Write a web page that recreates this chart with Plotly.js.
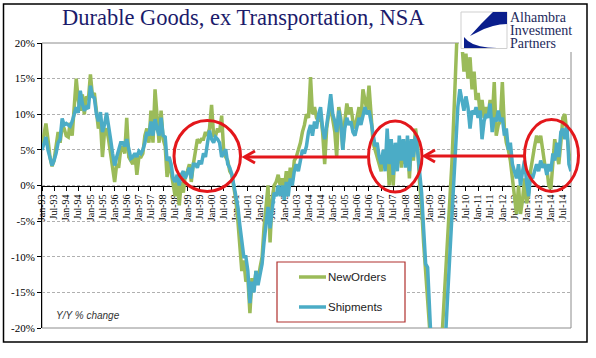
<!DOCTYPE html>
<html>
<head>
<meta charset="utf-8">
<script src="https://cdn.plot.ly/plotly-3.0.1.min.js"></script>
<style>html,body{margin:0;padding:0;background:#fff;}#chart{width:596px;height:358px;}</style>
</head>
<body>
<div id="chart"></div>
<script>
// ---- data (Y/Y % change, monthly Jan-93 .. Nov-14) ----
const startYear = 1993;
const seriesNames = ["NewOrders", "Shipments"];
const newOrders = [
  5.5, 7.0, 8.7, 6.5, 4.0, 2.7, 3.5, 5.5, 7.5, 6.0, 8.4, 8.0,
  7.0, 6.8, 8.8, 7.0, 10.5, 15.0, 12.0, 10.5, 12.8, 10.0, 12.5, 12.0,
  15.6, 12.5, 13.0, 10.5, 8.0, 9.0, 4.0, 7.5, 8.0, 6.5, 4.5, 3.0,
  0.5, 3.0, 2.5, 5.0, 5.5, 4.5, 9.5, 4.0, 3.5, 3.0, 4.5, 1.5,
  4.0, 4.0, 4.5, 7.0, 8.0, 6.0, 10.5, 6.0, 13.5, 9.0, 6.0, 10.5,
  6.5, 5.5, 1.2, 3.5, 2.0, 0.5, -1.5, 1.0, -2.8, 0.5, -1.0, 1.5,
  2.0, 3.0, 0.5, 3.0, 5.0, 6.5, 6.0, 6.5, 6.5, 7.5, 7.0, 8.0,
  11.3, 7.0, 7.0, 8.0, 7.5, 9.8, 5.0, 4.0, 3.5, 2.0, 1.5, 0.0,
  -2.0, -5.0, -8.0, -12.0, -10.5, -13.5, -13.0, -17.9, -13.0, -14.5, -12.0, -13.5,
  -11.5, -10.0, -6.0, -3.0, 0.0, -8.0, -2.0, 0.0, 0.5, 1.5, 0.0, 1.0,
  -0.5, 2.0, -0.5, 2.5, 0.5, 3.5, 4.0, 5.0, 6.0, 7.5, 8.5, 10.0,
  9.5, 15.2, 10.0, 11.0, 9.5, 9.0, 10.0, 7.5, 3.0, 8.0, 10.0, 11.0,
  9.0, 7.5, 4.0, 11.0, 9.5, 5.0, 9.0, 11.5, 10.0, 11.0, 9.0, 8.0,
  9.5, 11.0, 9.0, 13.5, 12.0, 10.5, 14.0, 9.0, 6.0, 5.0, 4.0, 3.0,
  2.0, 4.0, 2.5, 6.0, 0.0, 5.0, 0.0, 5.5, 3.0, 6.0, 2.5, 5.5,
  3.0, 6.5, 1.0, 6.0, 3.5, 8.0, 6.0, 0.5, -3.0, -8.0, -13.0, -17.0,
  -22, -26, -28, -28, -27, -25, -22, -17, -11, -6, -2, 3,
  10, 19, 24, 22, 20, 16, 18.5, 15, 18, 13.5, 16, 12,
  13, 10, 12, 9.5, 11, 10, 12, 9, 14.5, 7, 8.5, 9,
  14.5, 8, 6, 5, 3.5, 1, -1.5, -4, 0, -4, -2, 1,
  -2.5, -1, 2, 4, 5.5, 7, 6, 7, 5, 3, 2.5, 0,
  -0.5, 3, 6.5, 4.5, 3, 6, 9.5, 10, 7, 4.5, 3.5
];
const shipments = [
  5.0, 6.2, 6.8, 5.0, 4.0, 2.8, 3.5, 4.5, 6.0, 6.5, 9.4, 8.5,
  8.7, 8.5, 8.3, 9.0, 10.0, 11.0, 10.2, 13.3, 11.5, 10.5, 11.0, 10.8,
  14.0, 12.5, 12.3, 10.0, 9.0, 10.3, 7.5, 8.5, 10.2, 8.0, 6.5, 4.5,
  2.8, 4.0, 5.0, 6.0, 6.0, 5.5, 6.5, 5.0, 3.8, 4.0, 4.5, 4.0,
  4.8, 4.5, 5.0, 6.0, 7.5, 7.0, 9.0, 7.0, 9.3, 8.0, 7.0, 9.5,
  7.0, 6.8, 3.5, 4.0, 3.0, 1.0, 0.5, 1.5, 0.0, 1.5, 2.0, 1.0,
  1.8, 2.5, 1.0, 3.0, 3.0, 2.5, 3.5, 3.0, 4.5, 4.0, 6.0, 7.7,
  6.5, 6.0, 6.8, 6.5, 6.0, 4.0, 4.5, 5.1, 3.0, 2.5, 1.6, 0.0,
  -1.5, -3.0, -5.5, -7.5, -10.0, -10.0, -12.0, -16.5, -13.5, -15.0, -12.0, -14.0,
  -12.5, -11.0, -8.0, -5.0, -3.0, -6.0, -3.5, -1.0, -1.5, 0.0, -1.5, 0.0,
  -2.0, 0.5, -1.5, 1.0, 0.0, 2.0, 3.0, 2.0, 3.5, 5.0, 4.5, 5.5,
  7.5, 8.5, 7.0, 9.0, 8.0, 10.0, 11.0, 8.0, 6.5, 9.0, 10.5, 12.8,
  10.0, 9.0, 7.5, 10.5, 9.0, 5.0, 8.0, 9.5, 8.5, 9.0, 7.5, 7.0,
  8.5, 9.5, 8.5, 10.0, 11.0, 10.0, 10.5, 9.0, 7.0, 5.5, 6.0, 4.0,
  3.0, 5.0, 2.0, 8.0, 3.0, 6.5, 1.5, 6.0, 2.0, 7.0, 3.5, 6.5,
  2.5, 7.0, 2.0, 6.5, 4.0, 7.0, 5.0, 2.0, -1.0, -6.0, -11.0, -11.5,
  -20.5, -24, -27, -28, -28, -27, -25, -23, -20.5, -15, -10, -4,
  1, 6, 11, 13.5, 12, 10.5, 12.5, 11, 8, 10.5, 10, 11,
  9.5, 10.5, 6.5, 9, 10, 9.5, 11.5, 7.5, 9.5, 9, 10.5, 9,
  9.5, 7, 8, 5, 6, 3, 2, 1, 3, 0, 2, 3.5,
  0.5, -1.5, 1.5, 1, 2, 3, 2, 3.5, 2.5, 3, 1.5, 3,
  2, 4.5, 3.5, 6, 4, 7.5, 8, 6.5, 8.5, 3, 2
];
const yTickVals = [-20, -15, -10, -5, 0, 5, 10, 15, 20];
const yTickText = ["-20%", "-15%", "-10%", "-5%", "0%", "5%", "10%", "15%", "20%"];
const logoLines = ["Alhambra", "Investment", "Partners"];
const months = newOrders.map((_, i) => {
  const y = startYear + Math.floor(i / 12), m = (i % 12) + 1;
  return y + "-" + String(m).padStart(2, "0") + "-01";
});

// ---- geometry helpers (pixel -> paper) ----
const M = {l: 42, r: 25, t: 43, b: 30};
const W = 596 - M.l - M.r, H = 358 - M.t - M.b;
const px = x => (x - M.l) / W;
const py = y => (358 - M.b - y) / H;
const poly = pts => "M" + pts.map(p => px(p[0]).toFixed(5) + "," + py(p[1]).toFixed(5)).join(" L") + " Z";
const line = pts => "M" + pts.map(p => px(p[0]).toFixed(5) + "," + py(p[1]).toFixed(5)).join(" L");

const GREEN = "#9bbb59", BLUE = "#4bacc6", RED = "#e3171b", NAVY = "#1b1b6b";

const traces = [
  {x: months, y: newOrders, name: seriesNames[0], type: "scatter", mode: "lines",
   line: {color: GREEN, width: 3.5}, hoverinfo: "skip"},
  {x: months, y: shipments, name: seriesNames[1], type: "scatter", mode: "lines",
   line: {color: BLUE, width: 3.5}, hoverinfo: "skip"}
];

const shapes = [
  {type: "rect", xref: "paper", yref: "paper", x0: 0, x1: 1, y0: 0, y1: 1, line: {color: "#8c8c8c", width: 1}, layer: "below"},
  {type: "rect", xref: "paper", yref: "paper", x0: px(3.5), x1: px(587), y0: py(342), y1: py(4), line: {color: "#000", width: 1.5}},
  {type: "rect", xref: "paper", yref: "paper", x0: px(459), x1: px(585), y0: py(52), y1: py(8), fillcolor: "#fff", line: {width: 0}},
  {type: "rect", xref: "paper", yref: "paper", x0: px(461), x1: px(507), y0: py(48.5), y1: py(12), fillcolor: "#fff", line: {color: "#cfcfcf", width: 1}},
  {type: "path", xref: "paper", yref: "paper", path: poly([[507,12],[493,12],[481,24],[470,36],[476,33],[484,29],[493,26],[500,24.5],[507,24]]), fillcolor: "#0a1e8c", line: {width: 0}},
  {type: "path", xref: "paper", yref: "paper", path: poly([[464,37],[468,41],[473,44],[480,46.3],[488,47.5],[497,48],[464,48]]), fillcolor: "#0a1e8c", line: {width: 0}},
  {type: "circle", xref: "paper", yref: "paper", x0: px(174), x1: px(240.5), y0: py(191.5), y1: py(120.5), line: {color: RED, width: 3}},
  {type: "circle", xref: "paper", yref: "paper", x0: px(368.5), x1: px(422), y0: py(192), y1: py(121), line: {color: RED, width: 3}},
  {type: "circle", xref: "paper", yref: "paper", x0: px(524.5), x1: px(578.5), y0: py(191.5), y1: py(119.5), line: {color: RED, width: 3}},
  {type: "path", xref: "paper", yref: "paper", path: line([[367,157],[245,157]]), line: {color: RED, width: 3}},
  {type: "path", xref: "paper", yref: "paper", path: line([[255,151],[244.5,157],[255,163]]), line: {color: RED, width: 3}},
  {type: "path", xref: "paper", yref: "paper", path: line([[524,156],[425,156]]), line: {color: RED, width: 3}},
  {type: "path", xref: "paper", yref: "paper", path: line([[435,150],[424.5,156],[435,162]]), line: {color: RED, width: 3}},
  {type: "rect", xref: "paper", yref: "paper", x0: px(277), x1: px(405), y0: py(322), y1: py(262), fillcolor: "#fff", line: {color: "#b0302e", width: 1.2}},
  {type: "line", xref: "paper", yref: "paper", x0: px(299), x1: px(326), y0: py(277), y1: py(277), line: {color: GREEN, width: 3.5}},
  {type: "line", xref: "paper", yref: "paper", x0: px(299), x1: px(326), y0: py(307), y1: py(307), line: {color: BLUE, width: 3.5}}
];

const ann = (text, x, y, font, xanchor) => ({
  text: text, xref: "paper", yref: "paper", x: px(x), y: py(y), xanchor: xanchor || "left", yanchor: "middle",
  showarrow: false, font: font, borderpad: 0
});
const logoFont = {family: "Liberation Serif", size: 14, color: "#1d2a5c"};
const annotations = [
  ann("Durable Goods, ex Transportation, NSA", 243, 18, {family: "Liberation Serif", size: 22.5, color: NAVY}, "center"),
  ann(logoLines[0], 509, 17.5, logoFont),
  ann(logoLines[1], 509, 30.5, logoFont),
  ann(logoLines[2], 509, 43.5, logoFont),
  ann("<i>Y/Y % change</i>", 55, 315, {family: "Liberation Sans", size: 10, color: "#333"}),
  ann(seriesNames[0], 327, 277, {family: "Liberation Sans", size: 11.5, color: "#222"}),
  ann(seriesNames[1], 327, 307, {family: "Liberation Sans", size: 11.5, color: "#222"})
];

const layout = {
  width: 596, height: 358,
  margin: {l: M.l, r: M.r, t: M.t, b: M.b, pad: 0},
  paper_bgcolor: "#fff", plot_bgcolor: "#fff",
  showlegend: false,
  xaxis: {
    type: "date", range: ["1993-01-01", "2014-11-01"], anchor: "free", position: 0.5,
    showline: true, linecolor: "#000", linewidth: 1, ticks: "outside", ticklen: 4, tickcolor: "#000",
    tick0: "1993-01-01", dtick: "M6", tickformat: "%b-%y", tickangle: -90,
    tickfont: {family: "Liberation Serif", size: 10, color: "#000"},
    showgrid: false, zeroline: false, layer: "below traces", fixedrange: true
  },
  yaxis: {
    range: [-20, 20], tickvals: yTickVals, ticktext: yTickText,
    showline: true, linecolor: "#000", linewidth: 1, ticks: "outside", ticklen: 4, tickcolor: "#000",
    showgrid: true, gridcolor: "#b0b0b0", gridwidth: 1, griddash: "3px,2px", zeroline: false,
    tickfont: {family: "Liberation Serif", size: 11, color: "#000"}, fixedrange: true
  },
  shapes: shapes,
  annotations: annotations
};

Plotly.newPlot("chart", traces, layout, {staticPlot: true, displayModeBar: false});
</script>
</body>
</html>
